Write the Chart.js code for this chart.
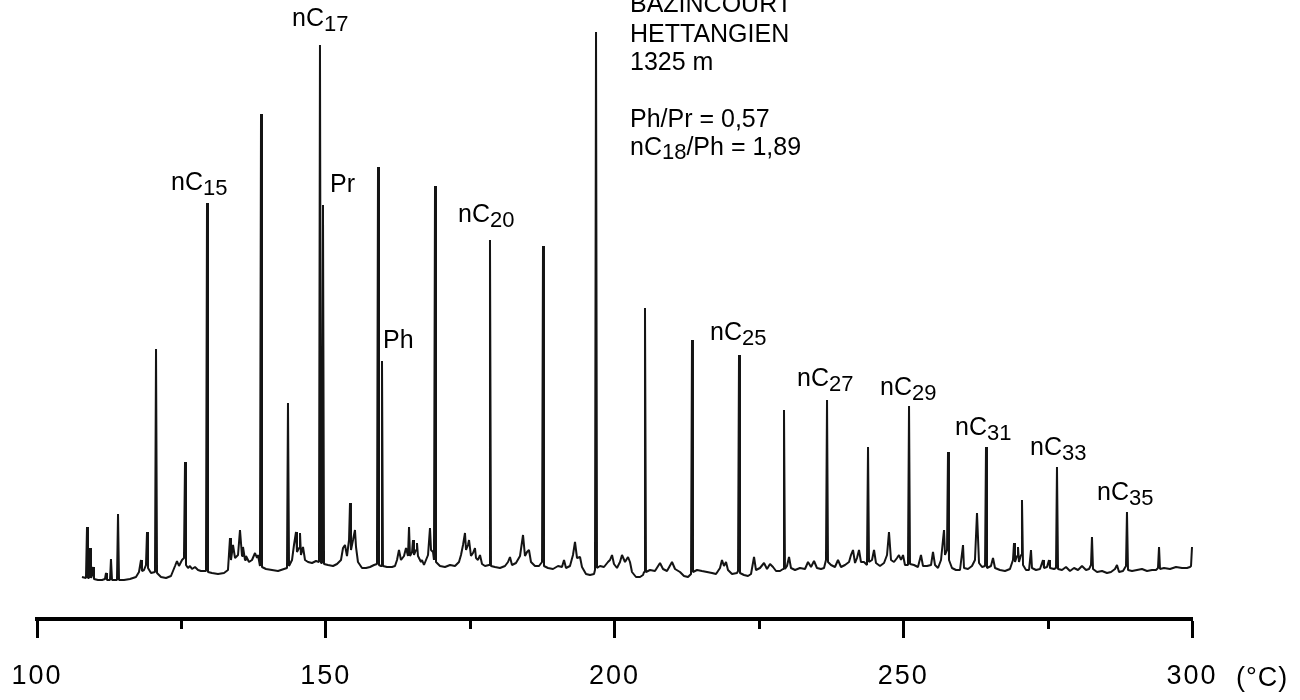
<!DOCTYPE html>
<html>
<head>
<meta charset="utf-8">
<script src="https://cdn.jsdelivr.net/npm/chart.js@4.4.1/dist/chart.umd.min.js"></script>
<style>
html,body{margin:0;padding:0;background:#ffffff;}
#wrap{width:1300px;height:700px;position:relative;}
</style>
</head>
<body>
<div id="wrap"><canvas id="chart" width="1300" height="700"></canvas></div>
<script>
// Oven temperature (°C) of each traced point
const temps = [
107.79,108.48,108.66,108.83,109.00,109.18,109.35,109.52,109.70,109.87,
110.56,111.26,111.77,111.95,112.12,112.64,112.81,112.99,113.85,114.03,
114.20,115.06,116.10,117.14,117.66,118.01,118.18,118.53,118.87,119.05,
119.22,119.74,120.43,120.61,120.78,121.47,122.34,123.20,123.90,124.24,
124.59,125.11,125.45,125.63,125.80,126.15,126.49,126.84,127.36,127.88,
128.40,129.26,129.44,129.61,130.30,131.34,132.38,133.07,133.42,133.59,
133.94,134.29,134.81,135.15,135.50,135.67,136.02,136.19,136.71,137.23,
137.75,138.10,138.27,138.61,138.79,138.96,139.65,140.69,141.73,142.77,
143.29,143.46,143.64,144.16,144.50,144.85,145.02,145.37,145.54,145.71,
146.06,146.41,146.93,147.62,148.31,148.83,149.00,149.18,149.35,149.52,
149.70,150.39,151.26,151.95,152.64,152.99,153.33,153.68,154.03,154.20,
154.37,154.72,155.06,155.24,155.58,156.28,156.97,157.66,158.36,158.87,
159.05,159.22,159.57,159.74,159.91,160.61,161.47,161.99,162.34,162.68,
163.03,163.55,163.90,164.24,164.42,164.59,164.94,165.11,165.28,165.63,
165.80,165.97,166.49,166.67,167.01,167.71,168.05,168.23,168.57,168.74,
168.92,169.09,169.78,170.65,171.52,172.38,173.07,173.42,173.77,174.11,
174.29,174.63,174.81,175.15,175.50,175.84,176.02,176.36,176.71,177.06,
177.58,178.27,178.44,178.61,179.31,180.17,181.04,181.56,181.90,182.25,
182.94,183.64,184.16,184.50,184.85,185.19,185.54,186.23,186.93,187.45,
187.62,187.79,188.48,189.35,190.22,190.91,191.26,191.60,192.29,192.81,
193.16,193.51,194.03,194.37,195.06,195.76,196.45,196.62,196.80,196.97,
197.49,198.18,198.87,199.22,199.57,199.91,200.43,200.95,201.30,201.82,
202.34,202.68,203.03,203.72,204.42,204.94,205.11,205.28,205.45,206.15,
207.01,207.88,208.40,209.09,209.96,210.48,211.34,212.03,212.73,213.25,
213.42,213.59,214.29,215.15,216.02,216.88,217.58,218.27,218.61,218.96,
219.31,219.65,220.35,221.21,221.39,221.56,221.73,222.42,223.12,223.64,
224.16,224.50,225.19,225.89,226.41,226.93,227.45,227.97,228.66,229.18,
229.35,229.52,229.87,230.22,230.56,231.26,232.12,232.99,233.51,234.03,
234.55,235.06,235.76,236.28,236.62,236.80,236.97,237.49,238.18,238.70,
239.22,239.91,240.61,240.95,241.30,241.65,241.99,242.34,242.68,243.20,
243.72,243.90,244.07,244.59,244.94,245.28,245.97,246.67,247.19,247.53,
247.88,248.40,248.92,249.26,249.61,249.96,250.30,250.82,251.00,251.17,
251.86,252.55,253.07,253.42,254.11,254.81,255.15,255.50,256.02,256.54,
256.88,257.06,257.23,257.58,257.75,257.92,258.44,259.13,259.83,260.35,
260.52,261.21,261.90,262.42,262.77,263.12,263.64,264.16,264.33,264.50,
265.19,265.54,265.89,266.75,267.62,268.48,269.00,269.18,269.35,269.70,
269.87,270.04,270.39,270.56,270.74,271.26,271.78,272.12,272.29,272.99,
273.68,274.20,274.37,274.89,275.24,275.41,276.10,276.45,276.62,276.80,
277.49,278.18,278.87,279.57,280.26,280.95,281.65,282.17,282.51,282.68,
282.86,283.55,284.42,285.28,285.97,286.67,287.01,287.36,288.05,288.57,
288.74,288.92,289.61,290.48,291.34,292.21,293.07,293.77,294.11,294.29,
294.46,295.15,296.19,297.23,298.27,299.13,299.65,299.83,300.00,300.17,
300.87,301.39
];

// Detector signal (arbitrary units)
const signal = [
42,41,92,41,41,71,41,44,52,40,
39,39,40,46,39,39,60,39,39,105,
39,39,40,42,47,59,48,49,54,87,
51,46,47,270,46,42,41,43,53,58,
53,59,61,157,54,51,53,50,52,49,
48,48,416,47,46,45,46,49,81,59,
74,61,64,89,63,72,59,63,57,59,
66,61,64,53,505,52,50,49,48,50,
51,216,53,59,74,87,67,71,86,64,
72,59,57,56,58,57,574,56,57,414,
55,54,53,55,59,71,74,63,79,116,
69,79,89,72,57,51,51,52,54,55,
452,54,53,258,53,52,52,53,59,69,
59,63,71,63,92,63,67,79,64,69,
76,63,57,59,54,64,91,69,67,59,
433,57,53,52,54,53,57,64,74,86,
69,74,79,63,66,71,61,59,64,55,
53,54,379,53,52,51,53,57,62,54,
56,63,84,63,67,69,57,53,53,57,
373,53,51,50,53,52,59,51,53,64,
77,61,62,52,45,44,45,49,587,51,
53,52,57,59,64,55,51,57,64,57,
62,57,47,42,42,44,47,311,47,49,
48,56,50,48,57,50,47,43,42,45,
279,47,49,48,47,46,45,51,59,53,
57,49,45,46,48,264,46,44,43,45,
62,49,51,56,50,55,52,48,48,50,
209,50,53,62,51,49,51,50,57,52,
58,51,50,51,59,219,57,54,52,59,
52,54,57,64,69,56,61,69,57,57,
54,172,57,59,69,56,53,56,64,87,
59,57,61,64,59,64,54,54,213,55,
54,52,64,53,53,54,67,54,51,59,
79,89,64,69,167,59,51,49,49,74,
51,50,53,59,106,56,52,53,172,51,
53,61,51,49,48,50,59,76,57,63,
72,57,64,119,54,49,49,69,51,49,
50,59,51,52,59,51,50,51,152,50,
49,52,48,51,49,53,49,50,54,82,
50,47,48,46,47,50,54,47,48,53,
107,49,48,49,50,48,49,49,51,72,
50,51,50,52,51,51,52,53,72,51,
51,50
];

// Temperature axis ticks
const tickStep = 25;
const labelledTicks = [100, 150, 200, 250, 300];
const minorTicks = [125, 175, 225, 275];
const axisUnit = '(°C)';

// Peak identifications: name, subscript, anchor temperature, anchor signal level
const peakNames = ['nC', 'nC', 'Pr', 'Ph', 'nC', 'nC', 'nC', 'nC', 'nC', 'nC', 'nC'];
const peakSubs  = ['15', '17', '', '', '20', '25', '27', '29', '31', '33', '35'];
const peakLabelTemps  = [123.20, 144.16, 150.74, 159.91, 172.90, 216.54, 231.60, 245.97, 258.96, 271.95, 283.55];
const peakLabelLevels = [429, 593, 427, 271, 397, 279, 233, 224, 184, 164, 119];

// Sample information block
const infoLines = [
  [['BAZINCOURT', false]],
  [['HETTANGIEN', false]],
  [['1325 m', false]],
  [['Ph/Pr = 0,57', false]],
  [['nC', false], ['18', true], ['/Ph = 1,89', false]]
];
const infoTemp = 202.68;
const infoLevels = [607, 577, 549, 492, 464];

const FONT = "'Liberation Sans', Arial, Helvetica, sans-serif";

function drawParts(ctx, x, y, parts, size, subSize, subDrop) {
  let cx = x;
  for (const [txt, isSub] of parts) {
    ctx.font = (isSub ? subSize : size) + 'px ' + FONT;
    ctx.fillText(txt, cx, isSub ? y + subDrop : y);
    cx += ctx.measureText(txt).width;
  }
}

const decorPlugin = {
  id: 'decor',
  beforeDraw(chart) {
    chart.ctx.letterSpacing = '2px';
  },
  beforeDatasetsDraw(chart) {
    chart.ctx.letterSpacing = '0px';
  },
  afterDraw(chart) {
    const ctx = chart.ctx;
    const xs = chart.scales.x, ys = chart.scales.y;
    const bottom = chart.chartArea.bottom;
    ctx.save();
    ctx.letterSpacing = '0px';
    // minor ticks
    ctx.strokeStyle = '#000';
    ctx.lineWidth = 3;
    for (const v of minorTicks) {
      const px = Math.round(xs.getPixelForValue(v)) + 0.5;
      ctx.beginPath();
      ctx.moveTo(px, bottom);
      ctx.lineTo(px, bottom + 10);
      ctx.stroke();
    }
    // unit
    ctx.fillStyle = '#000';
    ctx.textBaseline = 'alphabetic';
    ctx.textAlign = 'left';
    ctx.font = '27px ' + FONT;
    ctx.letterSpacing = '1px';
    ctx.fillText(axisUnit, xs.getPixelForValue(300) + 44, 686);
    ctx.letterSpacing = '0px';
    // peak labels
    for (let i = 0; i < peakNames.length; i++) {
      const x = xs.getPixelForValue(peakLabelTemps[i]);
      const y = ys.getPixelForValue(peakLabelLevels[i]);
      const parts = [[peakNames[i], false]];
      if (peakSubs[i]) parts.push([peakSubs[i], true]);
      drawParts(ctx, x, y, parts, 25, 22, 5);
    }
    // info block
    const ix = xs.getPixelForValue(infoTemp);
    for (let i = 0; i < infoLines.length; i++) {
      drawParts(ctx, ix, ys.getPixelForValue(infoLevels[i]), infoLines[i], 25, 22, 4);
    }
    ctx.restore();
  }
};

new Chart(document.getElementById('chart'), {
  type: 'line',
  data: {
    datasets: [{
      data: temps.map((t, i) => ({ x: t, y: signal[i] })),
      borderColor: '#141414',
      borderWidth: 2,
      borderJoinStyle: 'bevel',
      pointRadius: 0,
      tension: 0,
      fill: false,
      clip: false
    }]
  },
  options: {
    responsive: false,
    animation: false,
    events: [],
    layout: { padding: { left: 37, right: 108, top: 0, bottom: 0 } },
    plugins: { legend: { display: false }, tooltip: { enabled: false } },
    scales: {
      x: {
        type: 'linear',
        min: 100,
        max: 300,
        position: 'bottom',
        afterFit(scale) {
          scale.height = 81;
          scale.paddingLeft = 0;
          scale.paddingRight = 0;
        },
        border: { display: true, color: '#000', width: 4 },
        grid: {
          drawOnChartArea: false,
          drawTicks: true,
          tickLength: 19,
          tickWidth: 3,
          tickColor: (c) => (c.tick && labelledTicks.includes(c.tick.value)) ? '#000' : 'rgba(0,0,0,0)'
        },
        ticks: {
          stepSize: tickStep,
          autoSkip: false,
          maxRotation: 0,
          padding: 22,
          color: '#000',
          font: { family: FONT, size: 27 },
          callback: (v) => labelledTicks.includes(v) ? String(v) : ''
        }
      },
      y: { display: false, min: 0, max: 619 }
    }
  },
  plugins: [decorPlugin]
});
</script>
</body>
</html>
